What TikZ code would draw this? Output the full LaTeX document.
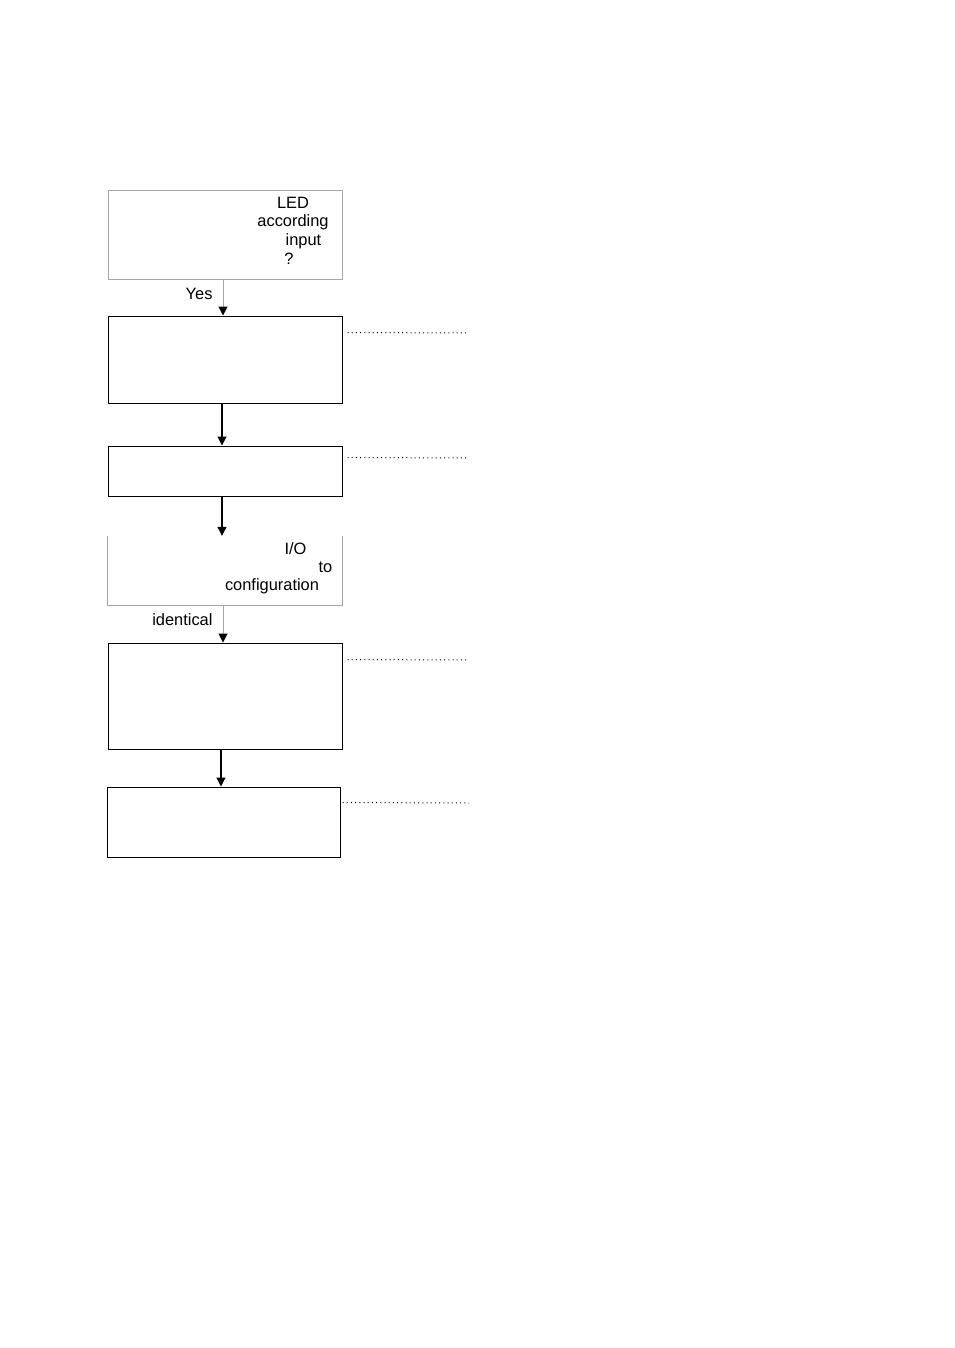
\documentclass[tikz,border=0pt]{standalone}
\usepackage{fontspec}
\setmainfont{Liberation Sans}
\usetikzlibrary{arrows.meta}

\tikzset{
  box/.style={draw, line width=1pt, minimum width=234pt, inner sep=0pt},
  querybox/.style={draw=black!35, line width=1pt, minimum width=234pt, inner sep=0pt},
  word/.style={anchor=base, inner sep=0pt, font=\fontsize{16.4}{18.3}\selectfont},
  flow/.style={line width=1.1pt, -{Triangle[width=9pt,length=9pt,black]}},
  grayflow/.style={draw=black!35, line width=1pt, -{Triangle[width=9pt,length=9pt,black]}},
  note/.style={line width=1pt, dash pattern=on 1pt off 3.2pt}
}

\begin{document}
\begin{tikzpicture}[x=1pt,y=-1pt]
        \useasboundingbox (0,0) rectangle (954,1348);

        % boxes
        \node[querybox, minimum height=88pt] at (225,235) (query) {};
        \node[box, minimum height=87pt] at (225,359.5) (act1) {};
        \node[box, minimum height=50pt] at (225,471) (act2) {};
        \node[minimum width=234pt, minimum height=69pt, inner sep=0pt] at (225,570.5) (cfg) {};
        \node[box, minimum height=106pt] at (225,696) (act3) {};
        \node[box, minimum width=233pt, minimum height=70pt] at (223.5,822) (act4) {};

        \draw[draw=black!35, line width=1pt] (cfg.north west) -- (cfg.south west) -- (cfg.south east) -- (cfg.north east);

        % texts
        \node[word] at (293,209) (led) {LED};
        \node[word] at (293,227) (according) {according};
        \node[word] at (303.5,246) (input) {input};
        \node[word] at (289,264) (ask) {?};
        \node[word] at (295.5,554) (io) {I/O};
        \node[word] at (325.5,572) (to) {to};
        \node[word] at (272,590) (config) {configuration};

        % connectors
        \draw[grayflow] ([xshift=-2pt]query.south) -- ([xshift=-2pt]act1.north) node [midway, word, left=10pt, yshift=4pt] (yes) {Yes};
        \draw[flow] ([xshift=-3pt]act1.south) -- ([xshift=-3pt]act2.north);
        \draw[flow] ([xshift=-3pt]act2.south) -- ([xshift=-3pt]cfg.north);
        \draw[grayflow] ([xshift=-2pt]cfg.south) -- ([xshift=-2pt]act3.north) node [midway, word, left=10pt, yshift=4pt] (ident) {identical};
        \draw[flow] ([xshift=-4pt]act3.south) -- ([xshift=-2.5pt]act4.north);

        % notes
        \coordinate (n1) at (469,333);
        \coordinate (n2) at (469,458);
        \coordinate (n3) at (469,660);
        \coordinate (n4) at (469,803);
        \draw[note] ([xshift=5pt,yshift=-17pt]act1.north east) -- (n1);
        \draw[note] ([xshift=5pt,yshift=-12pt]act2.north east) -- (n2);
        \draw[note] ([xshift=5pt,yshift=-17pt]act3.north east) -- (n3);
        \draw[note] ([xshift=2pt,yshift=-16pt]act4.north east) -- (n4);

    \end{tikzpicture}
\end{document}
